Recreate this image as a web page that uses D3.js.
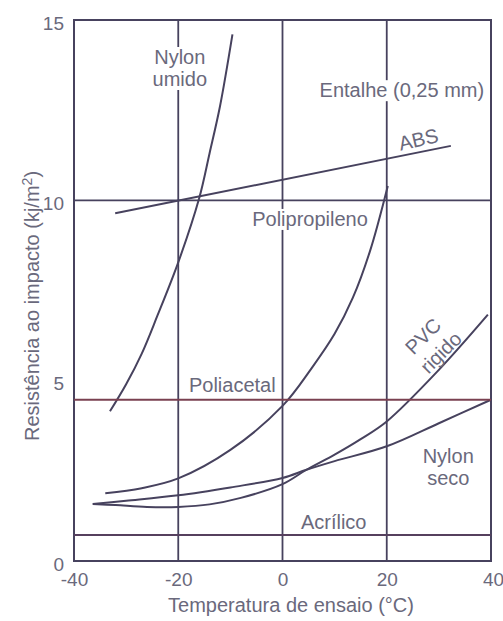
<!DOCTYPE html>
<html>
<head>
<meta charset="utf-8">
<script src="https://cdn.jsdelivr.net/npm/d3@7"></script>
<style>
  html, body { margin: 0; padding: 0; background: #ffffff; }
  svg { display: block; }
  text { font-family: "Liberation Sans", Arial, sans-serif; fill: #6a697c; }
</style>
</head>
<body>
<svg id="chart" width="503" height="621"></svg>
<script>
// ---- data ----
const xTicks = [-40, -20, 0, 20, 40];
const yTicks = [0, 5, 10, 15];

const nylonUmidoT = [-33.1, -30, -27, -24, -20, -16, -14, -12, -9.6];
const nylonUmidoV = [4.15, 4.9, 5.75, 6.8, 8.28, 10.05, 11.3, 12.6, 14.6];

const absT = [-32.1, 32.3];
const absV = [9.64, 11.51];

const polipropilenoT = [-34.0, -27, -20, -10, 0, 5.6, 10, 13.5, 16.8, 20.2];
const polipropilenoV = [1.88, 2.02, 2.29, 3.08, 4.3, 5.35, 6.3, 7.3, 8.6, 10.4];

const pvcT = [-36.4, -32, -26, -20, -14, -8, 0, 4.6, 10, 15, 20, 30, 39.4];
const pvcV = [1.58, 1.55, 1.5, 1.5, 1.57, 1.75, 2.13, 2.53, 2.95, 3.38, 3.87, 5.3, 6.83];

const nylonSecoT = [-36.4, -30, -20, -10, 0, 4.6, 10, 20, 30, 40];
const nylonSecoV = [1.58, 1.67, 1.82, 2.04, 2.3, 2.53, 2.77, 3.18, 3.82, 4.47];

const poliacetalT = [-40, 40];
const poliacetalV = [4.47, 4.47];

const acrilicoT = [-40, 40];
const acrilicoV = [0.72, 0.72];

const gridX = [-20, 0, 20];
const gridY = [10];

// ---- layout ----
const svg = d3.select("#chart");
const mLeft = 74, mRight = 491, mTop = 20, mBottom = 561;
const x = d3.scaleLinear().domain([-40, 40]).range([mLeft, mRight]);
const y = d3.scaleLinear().domain([0, 15]).range([mBottom, mTop]);
const lineColor = "#47425e";
const fs = 20;

const zip = (a, b) => a.map((d, i) => [d, b[i]]);
const line = d3.line().x(d => x(d[0])).y(d => y(d[1])).curve(d3.curveCatmullRom.alpha(0.5));

// gridlines
const g = svg.append("g");
g.selectAll("line.gx").data(gridX).join("line")
  .attr("x1", d => x(d)).attr("x2", d => x(d))
  .attr("y1", y(15)).attr("y2", y(0))
  .attr("stroke", lineColor).attr("stroke-width", 1.8);
g.selectAll("line.gy").data(gridY).join("line")
  .attr("x1", x(-40)).attr("x2", x(40))
  .attr("y1", d => y(d)).attr("y2", d => y(d))
  .attr("stroke", lineColor).attr("stroke-width", 1.8);

// labels (white boxes break the gridlines behind them)
const labels = [
  { lines: ["Nylon", "umido"], t: -19.7, v: 13.78, box: true },
  { lines: ["Entalhe (0,25 mm)"], t: 22.9, v: 12.86, box: true },
  { lines: ["Polipropileno"], t: 5.28, v: 9.29, box: true },
  { lines: ["Poliacetal"], t: -9.63, v: 4.69 },
  { lines: ["Nylon", "seco"], t: 31.8, v: 2.73 },
  { lines: ["Acrílico"], t: 9.82, v: 0.88 }
];
const bgLayer = svg.append("g");
const frameLayer = svg.append("g");
const curveLayer = svg.append("g");
const textLayer = svg.append("g");

labels.forEach(L => {
  const t = textLayer.append("text")
    .attr("x", x(L.t)).attr("y", y(L.v))
    .attr("text-anchor", "middle").attr("font-size", fs);
  L.lines.forEach((s, i) => {
    t.append("tspan").attr("x", x(L.t)).attr("dy", i === 0 ? 0 : 22).text(s);
  });
  if (L.box) {
    const b = t.node().getBBox();
    bgLayer.append("rect")
      .attr("x", b.x - 3).attr("y", b.y + 1)
      .attr("width", b.width + 6).attr("height", b.height - 1)
      .attr("fill", "#ffffff");
  }
});

// rotated labels
textLayer.append("text")
  .attr("transform", `translate(${x(26.4)},${y(11.5)}) rotate(-13)`)
  .attr("text-anchor", "middle").attr("font-size", fs).text("ABS");
textLayer.append("text")
  .attr("transform", `translate(${x(27.2)},${y(6.2)}) rotate(-45)`)
  .attr("text-anchor", "middle").attr("dominant-baseline", "middle")
  .attr("font-size", fs).text("PVC");
textLayer.append("text")
  .attr("transform", `translate(${x(30.6)},${y(5.75)}) rotate(-45)`)
  .attr("text-anchor", "middle").attr("dominant-baseline", "middle")
  .attr("font-size", fs).text("rigido");

// frame
frameLayer.append("rect")
  .attr("x", mLeft).attr("y", mTop)
  .attr("width", mRight - mLeft).attr("height", mBottom - mTop)
  .attr("fill", "none").attr("stroke", lineColor).attr("stroke-width", 2);

// curves
const series = [
  { t: nylonUmidoT, v: nylonUmidoV, c: lineColor },
  { t: absT, v: absV, c: lineColor },
  { t: polipropilenoT, v: polipropilenoV, c: lineColor },
  { t: pvcT, v: pvcV, c: lineColor },
  { t: nylonSecoT, v: nylonSecoV, c: lineColor },
  { t: poliacetalT, v: poliacetalV, c: "#7a4050" },
  { t: acrilicoT, v: acrilicoV, c: "#56405e" }
];
curveLayer.selectAll("path").data(series).join("path")
  .attr("d", s => line(zip(s.t, s.v)))
  .attr("fill", "none").attr("stroke", s => s.c).attr("stroke-width", 2);

// axes
const fmt = d => String(d);
const xAxis = d3.axisBottom(x).tickValues(xTicks).tickSize(0).tickPadding(12).tickFormat(fmt);
const ax = svg.append("g").attr("transform", `translate(0,${mBottom})`).call(xAxis);
ax.select(".domain").remove();
ax.selectAll("text").attr("font-size", 19).attr("fill", "#6a697c")
  .attr("font-family", "Liberation Sans, Arial, sans-serif");
ax.selectAll(".tick text").filter(d => d === 40).attr("dx", 2);

const yAxis = d3.axisLeft(y).tickValues(yTicks).tickSize(0).tickPadding(10).tickFormat(fmt);
const ay = svg.append("g").attr("transform", `translate(${mLeft},0)`).call(yAxis);
ay.select(".domain").remove();
ay.selectAll("text").attr("font-size", 19).attr("fill", "#6a697c")
  .attr("font-family", "Liberation Sans, Arial, sans-serif")
  .attr("transform", "translate(0,3)");

// axis titles
svg.append("text")
  .attr("x", 291).attr("y", 612)
  .attr("text-anchor", "middle").attr("font-size", fs)
  .text("Temperatura de ensaio (°C)");

const yt = svg.append("text")
  .attr("transform", "translate(39,306) rotate(-90)")
  .attr("text-anchor", "middle").attr("font-size", fs);
yt.append("tspan").text("Resistência ao impacto (kj/m");
yt.append("tspan").attr("font-size", 14).attr("dy", -7).text("2");
yt.append("tspan").attr("dy", 7).text(")");
</script>
</body>
</html>
